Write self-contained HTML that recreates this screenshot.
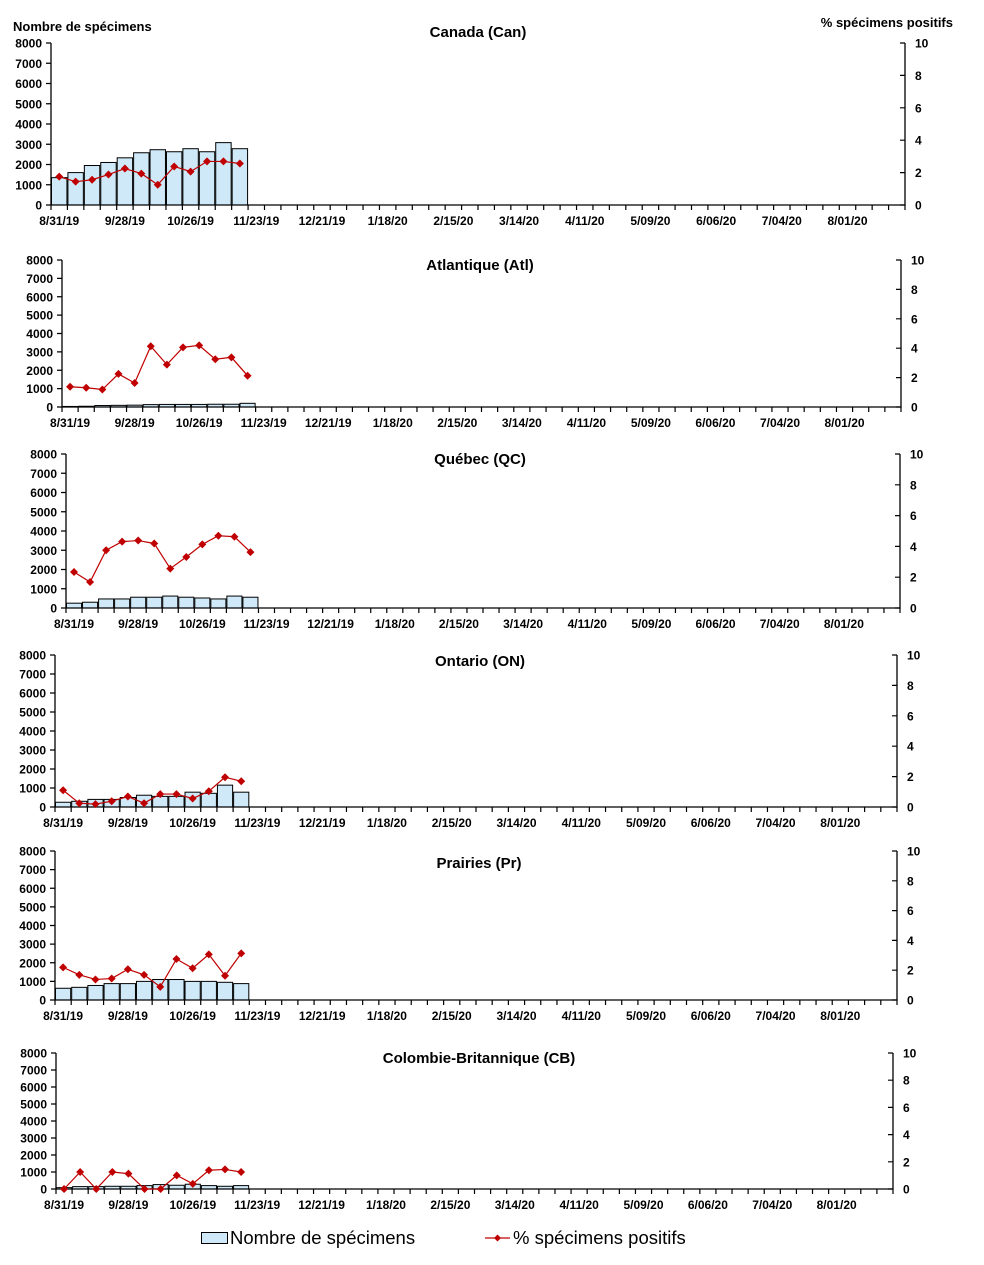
<!DOCTYPE html>
<html><head><meta charset="utf-8">
<style>
body{margin:0;background:#fff;}
svg text{font-family:"Liberation Sans",Arial,sans-serif;}
.tl{font-size:12px;font-weight:bold;fill:#000;}
.tt{font-size:15px;font-weight:bold;fill:#000;}
</style></head>
<body>
<svg id="chart" width="984" height="1260" viewBox="0 0 984 1260" xmlns="http://www.w3.org/2000/svg">
<text x="13" y="31" class="tl" style="font-size:13px">Nombre de spécimens</text>
<text x="953" y="27" class="tl" style="font-size:13px" text-anchor="end">% spécimens positifs</text>
<g>
<rect x="201.5" y="1232.5" width="26" height="11" fill="#cfe9f8" stroke="#000"/>
<text x="230" y="1244" font-size="18.5">Nombre de spécimens</text>
<line x1="485" y1="1238" x2="510" y2="1238" stroke="#c00000" stroke-width="1.3"/>
<polygon points="497.5,1234.5 501,1238 497.5,1241.5 494,1238" fill="#c00000"/>
<text x="513" y="1244" font-size="18.5">% spécimens positifs</text>
</g>
</svg>
<script>
const xLabels = ["8/31/19","9/28/19","10/26/19","11/23/19","12/21/19","1/18/20","2/15/20","3/14/20","4/11/20","5/09/20","6/06/20","7/04/20","8/01/20"];
const leftTicks = [0,1000,2000,3000,4000,5000,6000,7000,8000];
const rightTicks = [0,2,4,6,8,10];
const nWeeks = 52;
const regions = ["Canada (Can)","Atlantique (Atl)","Québec (QC)","Ontario (ON)","Prairies (Pr)","Colombie-Britannique (CB)"];
const countsCan = [1350,1600,1950,2100,2330,2580,2730,2630,2780,2630,3080,2780];
const pctCan = [1.75,1.44,1.56,1.88,2.25,1.94,1.25,2.38,2.06,2.69,2.69,2.56];
const countsAtl = [30,40,80,90,100,130,140,140,140,150,150,200];
const pctAtl = [1.38,1.31,1.19,2.25,1.63,4.13,2.88,4.06,4.19,3.25,3.38,2.13];
const countsQC = [250,300,470,470,560,560,620,560,520,470,620,560];
const pctQC = [2.34,1.69,3.75,4.31,4.38,4.19,2.56,3.31,4.13,4.69,4.63,3.63];
const countsON = [250,300,400,400,500,620,560,560,780,720,1150,780];
const pctON = [1.1,0.25,0.19,0.38,0.69,0.25,0.85,0.85,0.56,1.04,1.96,1.69];
const countsPr = [630,680,780,880,880,1000,1100,1100,1000,1000,950,880];
const pctPr = [2.19,1.69,1.38,1.44,2.06,1.69,0.88,2.75,2.13,3.06,1.63,3.13];
const countsCB = [80,140,140,160,160,200,260,220,280,200,160,200];
const pctCB = [0,1.25,0,1.25,1.13,0,0,1.0,0.38,1.38,1.44,1.25];

const NS="http://www.w3.org/2000/svg";
const svg=document.getElementById('chart');
function mk(t,a,p){const e=document.createElementNS(NS,t);for(const k in a)e.setAttribute(k,a[k]);(p||svg).appendChild(e);return e;}

const layout=[
 {L:51,R:905,T:43,B:205,ty:37,tx:478},
 {L:62,R:901,T:260,B:407,ty:270,tx:480},
 {L:66,R:900,T:454,B:608,ty:464,tx:480},
 {L:55,R:897,T:655,B:807,ty:666,tx:480},
 {L:55,R:897,T:851,B:1000,ty:868,tx:479},
 {L:56,R:893,T:1053,B:1189,ty:1063,tx:479}
];
const counts=[countsCan,countsAtl,countsQC,countsON,countsPr,countsCB];
const pcts=[pctCan,pctAtl,pctQC,pctON,pctPr,pctCB];
const keys=['canada','atlantic','quebec','ontario','prairies','bc'];

layout.forEach((P,i)=>{
  const g=mk('g',{});
  
  
  const cw=(P.R-P.L)/nWeeks;
  const xs=k=>P.L+k*cw;
  const yL=v=>P.B-(v/8000)*(P.B-P.T);
  const yR=v=>P.B-(v/10)*(P.B-P.T);
  const t=mk('text',{x:P.tx,y:P.ty,'text-anchor':'middle',class:'tt'},g);
  t.textContent=regions[i];
  
  
  counts[i].forEach((v,k)=>{
    const r=mk('rect',{x:xs(k)+0.5,y:yL(v),width:cw-1,height:P.B-yL(v),fill:'#cfe9f8',stroke:'#000','stroke-width':1},g);
    
    
  });
  const ax=mk('path',{d:`M${P.L},${P.T}V${P.B}H${P.R}V${P.T}`,fill:'none',stroke:'#000','stroke-width':1.3},g);
  
  
  let d='';
  for(let k=0;k<=nWeeks;k++){d+=`M${xs(k)},${P.B}v5`;}
  leftTicks.forEach(v=>{d+=`M${P.L-5},${yL(v)}h5`;});
  rightTicks.forEach(v=>{d+=`M${P.R-5},${yR(v)}h5`;});
  const tk=mk('path',{d:d,stroke:'#000','stroke-width':1.2,fill:'none'},g);
  
  
  leftTicks.forEach(v=>{const e=mk('text',{x:P.L-9,y:yL(v)+4.5,'text-anchor':'end',class:'tl'},g);e.textContent=v;
    
    });
  rightTicks.forEach(v=>{const e=mk('text',{x:P.R+10,y:yR(v)+4.5,class:'tl'},g);e.textContent=v;
    
    });
  xLabels.forEach((s,j)=>{const e=mk('text',{x:xs(j*4)+cw/2,y:P.B+20,'text-anchor':'middle',class:'tl'},g);e.textContent=s;
    
    });
  const pts=pcts[i].map((v,k)=>[xs(k)+cw/2,yR(v)]);
  const ln=mk('polyline',{points:pts.map(p=>p.join(',')).join(' '),fill:'none',stroke:'#c00000','stroke-width':1.2},g);
  
  
  pts.forEach((p,k)=>{const m=mk('polygon',{points:`${p[0]},${p[1]-4} ${p[0]+4},${p[1]} ${p[0]},${p[1]+4} ${p[0]-4},${p[1]}`,fill:'#c00000'},g);
    
    });
});
</script>
</body></html>
